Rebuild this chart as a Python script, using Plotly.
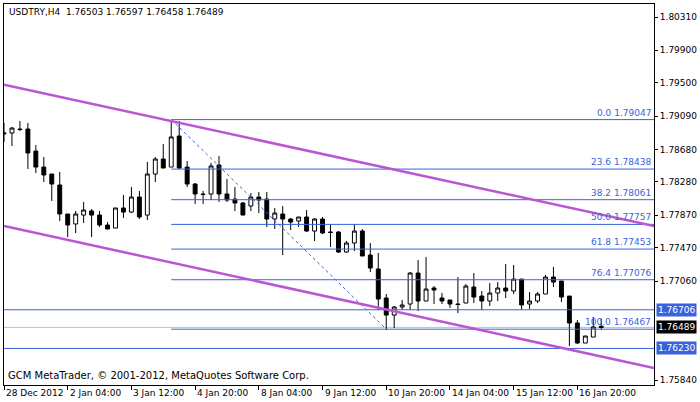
import plotly.graph_objects as go

# USDTRY H4 candles (index = bar number, 8 bars per date label)
opens = [1.78870, 1.78882, 1.78931, 1.78931, 1.78660, 1.78463, 1.78377, 1.78242, 1.77885, 1.77762,
         1.77872, 1.77922, 1.77872, 1.77749, 1.77712, 1.77959, 1.77909, 1.78094, 1.77872, 1.78377,
         1.78562, 1.78463, 1.78845, 1.78463, 1.78254, 1.78131, 1.78131, 1.78488, 1.78131, 1.78069,
         1.78020, 1.77983, 1.78094, 1.78069, 1.77823, 1.77885, 1.77823, 1.77799, 1.77848, 1.77675,
         1.77823, 1.77663, 1.77663, 1.77417, 1.77528, 1.77675, 1.77380, 1.77208, 1.76851, 1.76641,
         1.76740, 1.76777, 1.77158, 1.76814, 1.76974, 1.76851, 1.76826, 1.76777, 1.76789, 1.76986,
         1.76875, 1.76814, 1.76912, 1.76974, 1.76937, 1.77084, 1.76777, 1.76814, 1.76900, 1.77109,
         1.77060, 1.76875, 1.76543, 1.76297, 1.76370, 1.76503]
highs = [1.79005, 1.78956, 1.79030, 1.79005, 1.78734, 1.78586, 1.78377, 1.78402, 1.77885, 1.77922,
         1.78033, 1.77946, 1.77922, 1.77786, 1.77959, 1.78119, 1.78217, 1.78168, 1.78525, 1.78586,
         1.78746, 1.79030, 1.79030, 1.78537, 1.78266, 1.78168, 1.78513, 1.78599, 1.78316, 1.78217,
         1.78033, 1.78143, 1.78156, 1.78156, 1.77959, 1.77983, 1.77836, 1.77848, 1.77934, 1.77836,
         1.77848, 1.77762, 1.77675, 1.77552, 1.77762, 1.77700, 1.77528, 1.77405, 1.76900, 1.76752,
         1.76826, 1.77171, 1.77318, 1.77355, 1.76998, 1.76912, 1.76826, 1.77109, 1.77023, 1.77158,
         1.76937, 1.77035, 1.77047, 1.77269, 1.77257, 1.77084, 1.76924, 1.76924, 1.77134, 1.77232,
         1.77060, 1.76875, 1.76580, 1.76383, 1.76617, 1.76597]
lows = [1.78771, 1.78722, 1.78906, 1.78439, 1.78389, 1.78279, 1.78045, 1.77799, 1.77601, 1.77651,
        1.77774, 1.77601, 1.77725, 1.77700, 1.77712, 1.77836, 1.77897, 1.77823, 1.77811, 1.78279,
        1.78451, 1.78463, 1.78439, 1.78217, 1.78008, 1.78008, 1.78057, 1.78033, 1.78033, 1.77922,
        1.77872, 1.77922, 1.77897, 1.77725, 1.77700, 1.77380, 1.77688, 1.77725, 1.77663, 1.77552,
        1.77638, 1.77478, 1.77405, 1.77405, 1.77429, 1.77368, 1.77171, 1.76703, 1.76456, 1.76481,
        1.76703, 1.76703, 1.76691, 1.76814, 1.76777, 1.76777, 1.76728, 1.76666, 1.76789, 1.76789,
        1.76703, 1.76752, 1.76814, 1.76851, 1.76900, 1.76703, 1.76715, 1.76789, 1.76900, 1.76986,
        1.76801, 1.76259, 1.76284, 1.76297, 1.76370, 1.76458]
closes = [1.78882, 1.78943, 1.78925, 1.78636, 1.78463, 1.78365, 1.78254, 1.77885, 1.77749, 1.77885,
          1.77934, 1.77872, 1.77749, 1.77700, 1.77959, 1.77909, 1.78094, 1.77848, 1.78377, 1.78562,
          1.78451, 1.78833, 1.78451, 1.78254, 1.78131, 1.78125, 1.78476, 1.78131, 1.78057, 1.78020,
          1.77872, 1.78094, 1.78057, 1.77823, 1.77897, 1.77823, 1.77786, 1.77848, 1.77675, 1.77823,
          1.77651, 1.77658, 1.77417, 1.77528, 1.77675, 1.77368, 1.77220, 1.76838, 1.76641, 1.76740,
          1.76765, 1.77158, 1.76814, 1.76961, 1.76949, 1.76814, 1.76777, 1.76771, 1.76998, 1.76863,
          1.76814, 1.76912, 1.76974, 1.76937, 1.77084, 1.76765, 1.76814, 1.76900, 1.77109, 1.77047,
          1.76863, 1.76543, 1.76297, 1.76383, 1.76494, 1.76489]

date_labels = ["28 Dec 2012", "2 Jan 04:00", "3 Jan 12:00", "4 Jan 20:00", "8 Jan 04:00",
               "9 Jan 12:00", "10 Jan 20:00", "14 Jan 04:00", "15 Jan 12:00", "16 Jan 20:00"]
label_bars = [0, 8, 16, 24, 32, 40, 48, 56, 64, 72]

price_ticks = [1.80310, 1.79900, 1.79500, 1.79090, 1.78680, 1.78280, 1.77870, 1.77470, 1.77060, 1.75840]

fib_levels = ["0.0", "23.6", "38.2", "50.0", "61.8", "76.4", "100.0"]
fib_prices = [1.79047, 1.78438, 1.78061, 1.77757, 1.77453, 1.77076, 1.76467]
fib_start, fib_end_bar = 21, 48

upper_channel = [1.79475, 1.77737]
lower_channel = [1.77737, 1.75989]
hlines = [1.76706, 1.76230]
bid = 1.76489

x = list(range(len(opens)))
XMAX = 81.625
BLUE = "#3A62DC"
PURPLE = "#BA55D3"
FONT = "DejaVu Sans"

fig = go.Figure(go.Candlestick(
    x=x, open=opens, high=highs, low=lows, close=closes,
    increasing=dict(line=dict(color="black", width=1), fillcolor="white"),
    decreasing=dict(line=dict(color="black", width=1), fillcolor="black"),
    whiskerwidth=0, hoverinfo="skip"))

shapes = []
# bid line and horizontal levels
shapes.append(dict(type="line", x0=0, x1=XMAX, y0=bid, y1=bid, line=dict(color="#C0C0C0", width=1), layer="below"))
for p in hlines:
    shapes.append(dict(type="line", x0=0, x1=XMAX, y0=p, y1=p, line=dict(color=BLUE, width=1)))
# fibonacci
for p in fib_prices:
    shapes.append(dict(type="line", x0=fib_start, x1=XMAX, y0=p, y1=p, line=dict(color=BLUE, width=1)))
shapes.append(dict(type="line", x0=fib_start, x1=fib_end_bar, y0=fib_prices[0], y1=fib_prices[-1],
                   line=dict(color=BLUE, width=1, dash="dot")))
# channel
for ch in (upper_channel, lower_channel):
    shapes.append(dict(type="line", x0=0, x1=XMAX, y0=ch[0], y1=ch[1], line=dict(color=PURPLE, width=2.5)))

annotations = []
for lv, p in zip(fib_levels, fib_prices):
    annotations.append(dict(x=XMAX, y=p, text=f"{lv} {p:.5f}", showarrow=False, xanchor="right",
                            yanchor="bottom", xshift=-1, font=dict(family=FONT, size=9, color=BLUE)))
for b, t in zip(label_bars, date_labels):
    annotations.append(dict(x=b, y=0, yref="paper", text=t, showarrow=False, xanchor="left",
                            yanchor="top", xshift=0, yshift=-1, font=dict(family=FONT, size=9, color="black")))
for p, bg in ((hlines[0], BLUE), (bid, "black"), (hlines[1], BLUE)):
    annotations.append(dict(x=1, xref="paper", y=p, text=f"{p:.5f}", showarrow=False, xanchor="left",
                            xshift=2, bgcolor=bg, borderpad=1,
                            font=dict(family=FONT, size=9, color="white")))
annotations.append(dict(x=0, y=1, xref="paper", yref="paper", text="USDTRY,H4  1.76503 1.76597 1.76458 1.76489",
                        showarrow=False, xanchor="left", yanchor="top", xshift=3, yshift=-1,
                        font=dict(family=FONT, size=9, color="black")))
annotations.append(dict(x=0, y=0, xref="paper", yref="paper",
                        text="GCM MetaTrader, © 2001-2012, MetaQuotes Software Corp.",
                        showarrow=False, xanchor="left", yanchor="bottom", xshift=2, yshift=2,
                        font=dict(family=FONT, size=10, color="black")))

fig.update_layout(
    width=700, height=402, margin=dict(l=3, r=44, t=4, b=17),
    paper_bgcolor="white", plot_bgcolor="white", showlegend=False,
    shapes=shapes, annotations=annotations,
    xaxis=dict(range=[0, XMAX], rangeslider=dict(visible=False), showgrid=False, zeroline=False,
               tickvals=label_bars, ticktext=[""] * len(label_bars), ticks="outside", ticklen=4,
               tickcolor="black", showline=True, linecolor="black", mirror=True),
    yaxis=dict(range=[1.75780, 1.80470], side="right", showgrid=False, zeroline=False,
               tickvals=price_ticks, ticktext=[f"{v:.5f}" for v in price_ticks], ticks="outside",
               ticklen=3, tickcolor="black", showline=True, linecolor="black", mirror=True,
               tickfont=dict(family=FONT, size=9, color="black")),
)

fig.write_html("out.html", config={"displayModeBar": False},
               post_script="document.body.style.margin='0';")
